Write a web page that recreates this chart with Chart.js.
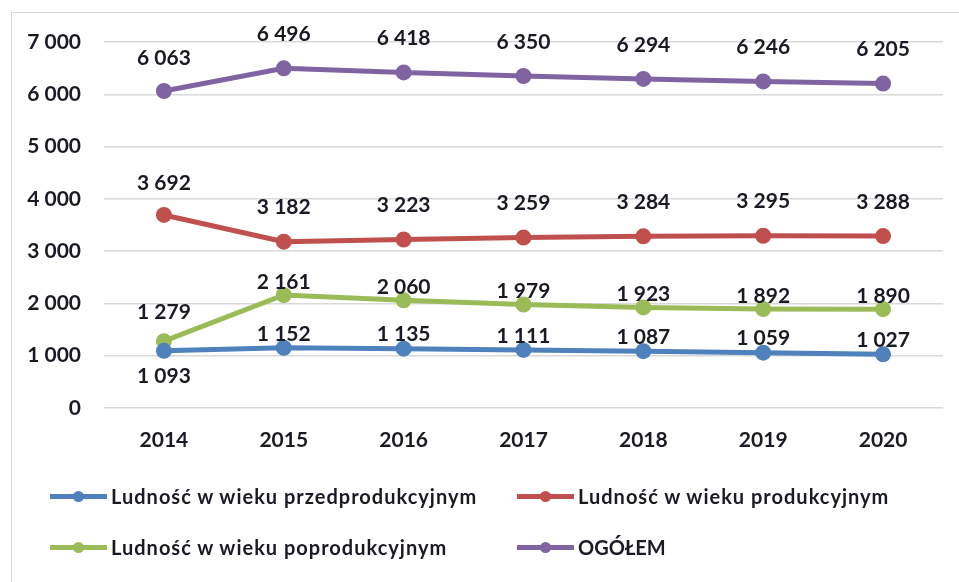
<!DOCTYPE html>
<html>
<head>
<meta charset="utf-8">
<script src="https://cdn.jsdelivr.net/npm/chart.js@4"></script>
<style>
  body { margin: 0; background: #fff; }
  #wrap { position: relative; width: 959px; height: 582px; overflow: hidden; }
  #frame { position: absolute; left: 11px; top: 12px; width: 960px; height: 600px; border: 1px solid #d9d9d9; box-sizing: border-box; }
  canvas { position: absolute; left: 0; top: 0; }
  .leg { position: absolute; display: flex; align-items: center; font: bold 20px Lato, sans-serif; letter-spacing: 1px; color: #1a1a24; white-space: nowrap; }
  .leg.krotka { letter-spacing: 0; }
  .leg .mk { position: relative; width: 57px; height: 5px; margin-right: 4px; }
  .leg .mk i { position: absolute; left: 23px; top: -3px; width: 11px; height: 11px; border-radius: 50%; }
</style>
</head>
<body>
<div id="wrap">
  <div id="frame"></div>
  <canvas id="graf" width="959" height="582"></canvas>
  <div id="legenda"></div>
</div>
<script>
// lata i wartości
const lata = ["2014", "2015", "2016", "2017", "2018", "2019", "2020"];
const przedprodukcyjny = [1093, 1152, 1135, 1111, 1087, 1059, 1027];
const produkcyjny = [3692, 3182, 3223, 3259, 3284, 3295, 3288];
const poprodukcyjny = [1279, 2161, 2060, 1979, 1923, 1892, 1890];
const ogolem = [6063, 6496, 6418, 6350, 6294, 6246, 6205];
const nazwy = ["Ludność w wieku przedprodukcyjnym", "Ludność w wieku produkcyjnym", "Ludność w wieku poprodukcyjnym", "OGÓŁEM"];

const kolory = ["#4f81bd", "#c0504d", "#9bbb59", "#8064a2"];
const FONT = "Lato, sans-serif";

function fmt(v) {
    return String(v).replace(/\B(?=(\d{3})+(?!\d))/g, " ");
}

// etykiety danych (nad / pod punktem), przesunięcie w px
const etykiety = {
    id: "etykiety",
    afterDatasetsDraw(chart) {
        const ctx = chart.ctx;
        ctx.save();
        ctx.font = "bold 21px " + FONT;
        ctx.fillStyle = "#1a1a24";
        ctx.textAlign = "center";
        ctx.textBaseline = "middle";
        chart.data.datasets.forEach((ds, i) => {
            chart.getDatasetMeta(i).data.forEach((pt, j) => {
                const off = ds.przesuniecie[j];
                ctx.fillText(fmt(ds.data[j]), pt.x, pt.y - off);
            });
        });
        ctx.restore();
    }
};

function zbior(i, dane, przes) {
    return {
        label: nazwy[i],
        data: dane,
        borderColor: kolory[i],
        backgroundColor: kolory[i],
        borderWidth: 5,
        pointRadius: 5.5,
        pointHoverRadius: 5.5,
        tension: 0,
        przesuniecie: przes
    };
}

const chart = new Chart(document.getElementById("graf"), {
    type: "line",
    data: {
        labels: lata,
        datasets: [
            zbior(0, przedprodukcyjny, [-25, 14, 14, 14, 14, 14, 14]),
            zbior(1, produkcyjny, [32, 34, 34, 34, 34, 34, 34]),
            zbior(2, poprodukcyjny, [29, 13, 13, 13, 13, 13, 13]),
            zbior(3, ogolem, [33, 34, 34, 34, 34, 34, 34])
        ]
    },
    options: {
        responsive: false,
        animation: false,
        layout: { padding: { left: 0, right: 16, top: 42, bottom: 124 } },
        plugins: { legend: { display: false }, tooltip: { enabled: false } },
        scales: {
            x: {
                offset: true,
                grid: { display: false },
                border: { display: false },
                ticks: { color: "#1a1a24", font: { family: FONT, size: 21, weight: "bold" }, padding: 12 },
                afterFit: (s) => { s.height = 50; }
            },
            y: {
                min: 0,
                max: 7000,
                ticks: {
                    stepSize: 1000,
                    color: "#1a1a24",
                    font: { family: FONT, size: 21, weight: "bold" },
                    padding: 23,
                    callback: (v) => fmt(v)
                },
                grid: { color: "#d9d9d9", lineWidth: 1.5, drawTicks: false },
                border: { display: false },
                afterFit: (s) => { s.width = 104; }
            }
        }
    },
    plugins: [etykiety]
});

// legenda w dwóch kolumnach
const pozycje = [[50, 497], [517, 497], [50, 548], [517, 548]];
const legenda = document.getElementById("legenda");
chart.data.datasets.forEach((ds, i) => {
    const el = document.createElement("div");
    el.className = ds.label.length < 10 ? "leg krotka" : "leg";
    el.style.left = pozycje[i][0] + "px";
    el.style.top = (pozycje[i][1] - 13) + "px";
    el.innerHTML = '<span class="mk" style="background:' + ds.borderColor + '"><i style="background:' + ds.borderColor + '"></i></span>' + ds.label;
    legenda.appendChild(el);
});
</script>
</body>
</html>
